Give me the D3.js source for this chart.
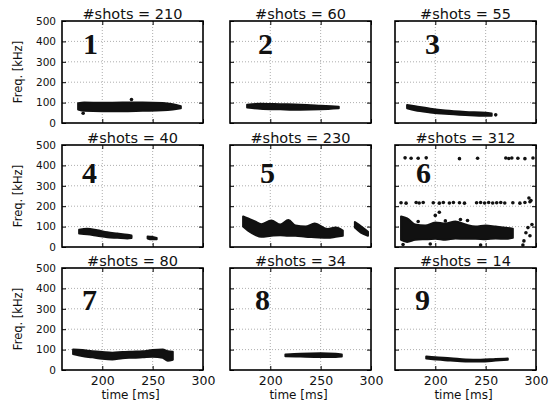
<!DOCTYPE html>
<html>
<head>
<meta charset="utf-8">
<script src="https://cdn.jsdelivr.net/npm/d3@7"></script>
<style>
  html, body { margin: 0; padding: 0; background: #fff; }
  svg { display: block; }
</style>
</head>
<body>
<div id="viz"></div>
<script>
// 3x3 grid of spectrogram-like scatter bands, freq vs time

const SHOTS = [210, 60, 55, 40, 230, 312, 80, 34, 14];
const X_TICKS = [200, 250, 300];
const Y_TICKS = [0, 100, 200, 300, 400, 500];

// bands: [time ms, low kHz, high kHz]
const band1 = [[176,66,97],[182,60,100],[200,58,99],[220,58,100],[240,60,100],[260,62,98],[270,66,92],[278,72,82]];
const band2 = [[177,76,90],[190,70,94],[210,67,92],[230,65,90],[250,67,85],[268,72,80]];
const band3 = [[172,72,88],[180,62,82],[195,52,70],[210,45,61],[230,39,54],[250,35,50],[256,36,47]];
const band4 = [[177,66,85],[185,62,90],[195,55,82],[205,48,72],[215,45,66],[225,42,60],[229,44,56]];
const band4b = [[245,42,52],[249,38,50],[254,38,44]];
const band5 = [[173,100,150],[178,80,140],[185,60,125],[191,50,112],[201,55,130],[210,58,110],[218,55,132],[225,55,105],[235,50,100],[244,48,115],[257,45,88],[265,50,95],[272,55,80]];
const band5b = [[284,95,122],[290,70,102],[297,55,75]];
const band6 = [[166,35,150],[172,25,140],[180,35,110],[190,38,105],[200,40,120],[210,35,115],[220,42,125],[230,40,110],[240,40,100],[250,38,105],[260,42,100],[270,40,95],[277,45,90]];
const band7 = [[171,78,100],[180,68,98],[190,62,92],[200,55,88],[210,52,85],[220,58,88],[230,60,90],[240,62,92],[250,65,98],[260,60,100],[265,45,92],[270,50,90]];
const band8 = [[215,68,76],[230,66,80],[250,64,82],[265,64,80],[271,66,76]];
const band9 = [[191,56,66],[200,52,62],[215,46,58],[230,42,52],[245,42,50],[260,46,54],[272,50,56]];

// loose points: [time ms, kHz]
const pts1 = [[181,48],[229,115]];
const pts3 = [[260,40]];
const pts4 = [[228,50]];
const pts6 = [
  [170,437],[176,435],[183,435],[191,437],[224,433],[242,435],[270,436],[273,434],[276,436],[282,435],[289,433],[297,436],
  [166,217],[171,215],[181,218],[184,216],[188,218],[198,217],[204,215],[208,218],[214,216],[218,218],[224,217],[229,215],
  [241,217],[245,218],[249,216],[253,218],[257,216],[261,217],[265,218],[269,216],[277,217],[284,215],[289,218],[294,222],
  [293,240],[295,228],[204,170],[200,155],[183,125],[210,128],[225,135],[232,130],
  [168,12],[195,15],[245,10],[287,10],[290,70],[292,95],[296,110],[294,55],[288,30]
];

const BANDS = [[band1],[band2],[band3],[band4,band4b],[band5,band5b],[band6],[band7],[band8],[band9]];
const POINTS = [pts1,[],pts3,pts4,[],pts6,[],[],[]];

const width = 555, height = 405;
const colX = [62, 230, 395];
const rowY = [21, 145, 268];
const pw = 141, ph = 102;
const numDx = [21, 28, 30, 20, 30, 21, 20, 25, 20];
const numDy = [33, 38, 42];

const svg = d3.select("#viz").append("svg")
  .attr("width", width).attr("height", height)
  .attr("viewBox", `0 0 ${width} ${height}`);

const INK = "#111";

SHOTS.forEach((n, i) => {
  const c = i % 3, r = Math.floor(i / 3);
  const x0 = colX[c], y0 = rowY[r];
  const x = d3.scaleLinear().domain([160, 300]).range([x0, x0 + pw]);
  const y = d3.scaleLinear().domain([0, 500]).range([y0 + ph, y0]);

  const g = svg.append("g");

  // grid
  g.selectAll("line.gy").data(Y_TICKS.slice(1, -1)).enter().append("line")
    .attr("x1", x0).attr("x2", x0 + pw)
    .attr("y1", d => y(d)).attr("y2", d => y(d))
    .attr("stroke", "#999").attr("stroke-width", 0.8).attr("stroke-dasharray", "1 2");
  g.selectAll("line.gx").data(X_TICKS.slice(0, -1)).enter().append("line")
    .attr("x1", d => x(d)).attr("x2", d => x(d))
    .attr("y1", y0).attr("y2", y0 + ph)
    .attr("stroke", "#999").attr("stroke-width", 0.8).attr("stroke-dasharray", "1 2");

  // data bands
  const area = d3.area()
    .x(d => x(d[0])).y0(d => y(d[1])).y1(d => y(d[2]))
    .curve(d3.curveMonotoneX);
  BANDS[i].forEach(b => {
    g.append("path").attr("d", area(b))
      .attr("fill", INK).attr("stroke", INK).attr("stroke-width", 2)
      .attr("stroke-linejoin", "round");
  });
  g.selectAll("circle").data(POINTS[i]).enter().append("circle")
    .attr("cx", d => x(d[0])).attr("cy", d => y(d[1]))
    .attr("r", 1.8).attr("fill", INK);

  // axes with inward ticks
  const left = d3.axisLeft(y).tickValues(Y_TICKS).tickSize(-4).tickPadding(6);
  if (c !== 0) left.tickFormat("");
  const right = d3.axisRight(y).tickValues(Y_TICKS).tickSize(-4).tickFormat("");
  const bottom = d3.axisBottom(x).tickValues(X_TICKS).tickSize(-4).tickPadding(6);
  if (r !== 2) bottom.tickFormat("");
  const top = d3.axisTop(x).tickValues(X_TICKS).tickSize(-4).tickFormat("");

  const styleAxis = sel => {
    sel.select(".domain").remove();
    sel.selectAll("line").attr("stroke", "#000");
    sel.selectAll("text").attr("fill", "#111").attr("font-family", "DejaVu Sans");
  };
  g.append("g").attr("transform", `translate(${x0},0)`).call(left).call(styleAxis)
    .selectAll("text").attr("font-size", 10.5);
  g.append("g").attr("transform", `translate(${x0 + pw},0)`).call(right).call(styleAxis);
  g.append("g").attr("transform", `translate(0,${y0 + ph})`).call(bottom).call(styleAxis)
    .selectAll("text").attr("font-size", 12.5);
  g.append("g").attr("transform", `translate(0,${y0})`).call(top).call(styleAxis);

  // frame
  g.append("rect").attr("x", x0).attr("y", y0).attr("width", pw).attr("height", ph)
    .attr("fill", "none").attr("stroke", "#000").attr("stroke-width", 1.6);

  // title
  g.append("text").attr("x", x0 + pw / 2).attr("y", y0 - 2)
    .attr("text-anchor", "middle").attr("font-family", "DejaVu Sans")
    .attr("font-size", 14.5).attr("fill", "#111")
    .text(`#shots = ${n}`);

  // panel number
  g.append("text").attr("x", x0 + numDx[i]).attr("y", y0 + numDy[r])
    .attr("font-family", "Liberation Serif").attr("font-weight", "bold")
    .attr("font-size", 30).attr("fill", "#111")
    .text(i + 1);

  if (c === 0) {
    g.append("text")
      .attr("transform", `translate(22,${y0 + ph / 2}) rotate(-90)`)
      .attr("text-anchor", "middle").attr("font-family", "DejaVu Sans")
      .attr("font-size", 11.5).attr("fill", "#111")
      .text("Freq. [kHz]");
  }
  if (r === 2) {
    g.append("text").attr("x", x0 + pw / 2 - 2).attr("y", 399)
      .attr("text-anchor", "middle").attr("font-family", "DejaVu Sans")
      .attr("font-size", 12).attr("fill", "#111")
      .text("time [ms]");
  }
});
</script>
</body>
</html>
